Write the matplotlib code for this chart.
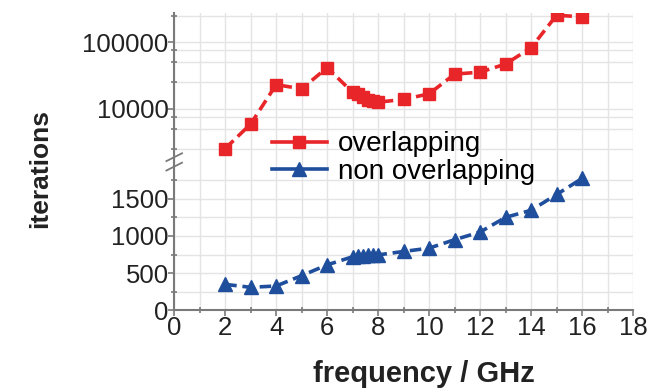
import matplotlib
matplotlib.use("Agg")
import matplotlib.pyplot as plt
from matplotlib.lines import Line2D
from matplotlib.ticker import FixedLocator, NullFormatter

# data
freq_ov = [2, 3, 4, 5, 6, 7.0, 7.2, 7.4, 7.6, 7.8, 8, 9, 10, 11, 12, 13, 14, 15, 16]
iter_ov = [2500, 5850, 22900, 19800, 41300, 17500, 16500, 15000, 13500, 12800, 12500,
           13700, 16700, 33000, 35300, 46800, 82600, 254000, 240000]

freq_non = [2, 3, 4, 5, 6, 7.0, 7.2, 7.4, 7.6, 7.8, 8, 9, 10, 11, 12, 13, 14, 15, 16]
iter_non = [347, 307, 325, 465, 610, 720, 730, 735, 740, 740, 745,
            791, 836, 950, 1053, 1252, 1347, 1560, 1777]

x_ticks = list(range(0, 19, 2))
low_ticks = [0, 500, 1000, 1500]
high_ticks = [10000, 100000]

red = "#e8262a"
blue = "#1f4e9c"
grid_c = "#e4e4e4"
spine_c = "#7a7a7a"

plt.rcParams['font.family'] = ['Liberation Sans', 'DejaVu Sans']

fig = plt.figure(figsize=(6.5, 3.92), dpi=100)
left, right = 0.268, 0.974
ax_lo = fig.add_axes([left, 0.209, right - left, 0.587 - 0.209])
ax_hi = fig.add_axes([left, 0.587, right - left, 0.967 - 0.587], sharex=ax_lo)

line_kw = dict(lw=2.6, dashes=(3.2, 1.6))

ax_hi.plot(freq_ov, iter_ov, color=red, marker='s', ms=8.5, **line_kw)
ax_lo.plot(freq_non, iter_non, color=blue, marker='^', ms=9.5, **line_kw)

# upper (log) part
ax_hi.set_yscale('log')
ax_hi.set_ylim(1574, 2.75e5)
ax_hi.yaxis.set_major_locator(FixedLocator(high_ticks))
minor_hi = [m * d for d in [1000, 10000, 100000] for m in (2.5, 5, 7.5)]
ax_hi.yaxis.set_minor_locator(FixedLocator(minor_hi))
ax_hi.yaxis.set_minor_formatter(NullFormatter())
ax_hi.set_yticklabels(['10000', '100000'])

# lower (linear) part
ax_lo.set_ylim(0, 2000)
ax_lo.yaxis.set_major_locator(FixedLocator(low_ticks))
ax_lo.yaxis.set_minor_locator(FixedLocator([250, 750, 1250, 1750]))
ax_lo.set_xlim(0, 18)
ax_lo.xaxis.set_major_locator(FixedLocator(x_ticks))
ax_lo.xaxis.set_minor_locator(FixedLocator(range(1, 19, 2)))

for ax in (ax_hi, ax_lo):
    ax.set_facecolor('none')
    ax.grid(True, which='both', color=grid_c, lw=1.0)
    ax.set_axisbelow(True)
    ax.spines['top'].set_visible(False)
    ax.spines['right'].set_visible(False)
    ax.spines['left'].set_color(spine_c)
    ax.spines['left'].set_linewidth(1.5)
    ax.spines['bottom'].set_color(spine_c)
    ax.spines['bottom'].set_linewidth(1.5)
    ax.tick_params(which='major', direction='out', length=4, width=1.2, color=spine_c,
                   labelsize=18.5, labelcolor='#222222', pad=0)
    ax.tick_params(which='minor', direction='inout', length=5, width=1.2, color=spine_c)

ax_hi.spines['bottom'].set_visible(False)
ax_hi.tick_params(axis='x', which='both', bottom=False, labelbottom=False)

# axis break mark
for dy in (-0.012, 0.012):
    fig.add_artist(Line2D([left - 0.012, left + 0.012], [0.587 + dy - 0.01, 0.587 + dy + 0.01],
                          color=spine_c, lw=1.3, transform=fig.transFigure))

fig.text(0.062, 0.57, 'iterations', rotation=90, ha='center', va='center',
         fontsize=19, fontweight='bold', color='#222222')
fig.text(0.652, 0.045, 'frequency / GHz', ha='center', va='center',
         fontsize=21, fontweight='bold', color='#222222')

handles = [Line2D([], [], color=red, lw=2.6, marker='s', ms=8.5),
           Line2D([], [], color=blue, lw=2.6, marker='^', ms=9.5)]
fig.legend(handles, ['overlapping', 'non overlapping'], loc='upper left',
           bbox_to_anchor=(0.418, 0.665), frameon=False, fontsize=20,
           handlelength=2.0, handletextpad=0.4, labelspacing=0.05,
           borderaxespad=0, borderpad=0)

fig.savefig('out.png', dpi=100)
